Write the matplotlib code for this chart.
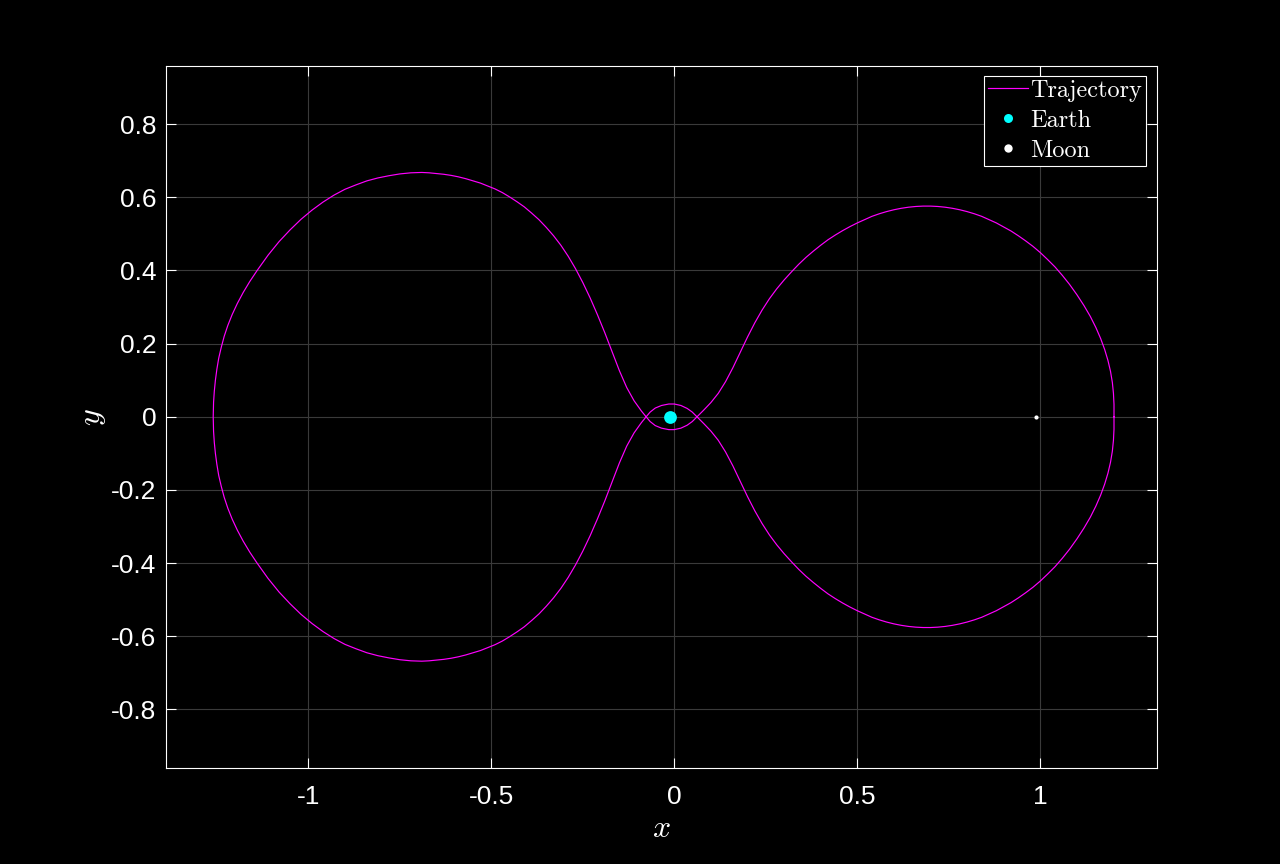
import numpy as np
import matplotlib
matplotlib.use("Agg")
import matplotlib.pyplot as plt
from matplotlib.lines import Line2D

plt.rcParams['axes.unicode_minus'] = False
plt.rcParams['mathtext.fontset'] = 'cm'
plt.rcParams['font.family'] = ['Liberation Sans', 'DejaVu Sans']

# Trajectory pieces, in the order the closed orbit runs
right_upper_x = [1.2015, 1.2015, 1.200, 1.197, 1.192, 1.185, 1.176, 1.165, 1.152, 1.137, 1.1195, 1.100, 1.080,
                 1.060, 1.040, 1.020, 1.000, 0.980, 0.960, 0.940, 0.920, 0.900, 0.880, 0.860, 0.840, 0.820,
                 0.800, 0.780, 0.760, 0.740, 0.720, 0.700, 0.680, 0.660, 0.640, 0.620, 0.600, 0.580, 0.560,
                 0.540, 0.520, 0.500, 0.480, 0.460, 0.440, 0.420, 0.400, 0.380, 0.360, 0.340, 0.320, 0.300,
                 0.280, 0.260, 0.240, 0.220, 0.200, 0.180, 0.160, 0.140, 0.120, 0.100, 0.080, 0.062]
right_upper_y = [0.000, 0.034, 0.064, 0.094, 0.124, 0.154, 0.184, 0.214, 0.244, 0.274, 0.304, 0.334, 0.362,
                 0.387, 0.410, 0.430, 0.449, 0.466, 0.481, 0.495, 0.508, 0.519, 0.530, 0.539, 0.548, 0.555,
                 0.561, 0.566, 0.570, 0.573, 0.575, 0.576, 0.576, 0.575, 0.573, 0.570, 0.566, 0.561, 0.555,
                 0.548, 0.539, 0.530, 0.520, 0.509, 0.497, 0.484, 0.469, 0.453, 0.436, 0.417, 0.396, 0.374,
                 0.350, 0.323, 0.292, 0.257, 0.218, 0.176, 0.134, 0.096, 0.064, 0.039, 0.018, 0.000]

bottom_arc_x = [0.049, 0.035, 0.018, 0.000, -0.015, -0.035, -0.052, -0.066, -0.077]
bottom_arc_y = [-0.013, -0.023, -0.031, -0.035, -0.035, -0.031, -0.024, -0.013, 0.000]

left_upper_x = [-0.090, -0.110, -0.130, -0.150, -0.170, -0.190, -0.210, -0.230, -0.250, -0.270, -0.290,
                -0.310, -0.330, -0.350, -0.370, -0.390, -0.410, -0.430, -0.450, -0.470, -0.490, -0.510,
                -0.530, -0.550, -0.570, -0.590, -0.610, -0.630, -0.650, -0.670, -0.690, -0.720, -0.750,
                -0.780, -0.810, -0.840, -0.870, -0.900, -0.930, -0.960, -0.990, -1.020, -1.050, -1.080,
                -1.110, -1.140, -1.160, -1.178, -1.194, -1.208, -1.220, -1.230, -1.238, -1.245, -1.250,
                -1.254, -1.257, -1.259, -1.260]
left_upper_y = [0.016, 0.044, 0.080, 0.126, 0.178, 0.230, 0.279, 0.325, 0.367, 0.405, 0.439,
                0.469, 0.495, 0.518, 0.539, 0.557, 0.574, 0.588, 0.601, 0.613, 0.623, 0.631,
                0.639, 0.645, 0.651, 0.656, 0.660, 0.663, 0.665, 0.667, 0.668, 0.667, 0.664,
                0.659, 0.653, 0.645, 0.634, 0.622, 0.606, 0.587, 0.565, 0.540, 0.511, 0.479,
                0.442, 0.400, 0.370, 0.340, 0.310, 0.280, 0.250, 0.220, 0.190, 0.160, 0.130,
                0.100, 0.070, 0.040, 0.000]

left_lower_x = [-1.259, -1.257, -1.254, -1.250, -1.245, -1.238, -1.230, -1.220, -1.208, -1.194, -1.178,
                -1.160, -1.140, -1.110, -1.080, -1.050, -1.020, -0.990, -0.960, -0.930, -0.900, -0.870,
                -0.840, -0.810, -0.780, -0.750, -0.720, -0.690, -0.670, -0.650, -0.630, -0.610, -0.590,
                -0.570, -0.550, -0.530, -0.510, -0.490, -0.470, -0.450, -0.430, -0.410, -0.390, -0.370,
                -0.350, -0.330, -0.310, -0.290, -0.270, -0.250, -0.230, -0.210, -0.190, -0.170, -0.150,
                -0.130, -0.110, -0.090, -0.077]
left_lower_y = [-0.040, -0.070, -0.100, -0.130, -0.160, -0.190, -0.220, -0.250, -0.280, -0.310, -0.340,
                -0.370, -0.400, -0.442, -0.479, -0.511, -0.540, -0.565, -0.587, -0.606, -0.622, -0.634,
                -0.645, -0.653, -0.659, -0.664, -0.667, -0.668, -0.667, -0.665, -0.663, -0.660, -0.656,
                -0.651, -0.645, -0.639, -0.631, -0.623, -0.613, -0.601, -0.588, -0.574, -0.557, -0.539,
                -0.518, -0.495, -0.469, -0.439, -0.405, -0.367, -0.325, -0.279, -0.230, -0.178, -0.126,
                -0.080, -0.044, -0.016, 0.000]

top_arc_x = [-0.066, -0.052, -0.035, -0.015, 0.000, 0.018, 0.035, 0.049, 0.062]
top_arc_y = [0.013, 0.024, 0.031, 0.035, 0.035, 0.031, 0.023, 0.013, 0.000]

right_lower_x = [0.080, 0.100, 0.120, 0.140, 0.160, 0.180, 0.200, 0.220, 0.240, 0.260, 0.280, 0.300,
                 0.320, 0.340, 0.360, 0.380, 0.400, 0.420, 0.440, 0.460, 0.480, 0.500, 0.520, 0.540,
                 0.560, 0.580, 0.600, 0.620, 0.640, 0.660, 0.680, 0.700, 0.720, 0.740, 0.760, 0.780,
                 0.800, 0.820, 0.840, 0.860, 0.880, 0.900, 0.920, 0.940, 0.960, 0.980, 1.000, 1.020,
                 1.040, 1.060, 1.080, 1.100, 1.1195, 1.137, 1.152, 1.165, 1.176, 1.185, 1.192, 1.197,
                 1.200, 1.2015, 1.2015]
right_lower_y = [-0.018, -0.039, -0.064, -0.096, -0.134, -0.176, -0.218, -0.257, -0.292, -0.323, -0.350, -0.374,
                 -0.396, -0.417, -0.436, -0.453, -0.469, -0.484, -0.497, -0.509, -0.520, -0.530, -0.539, -0.548,
                 -0.555, -0.561, -0.566, -0.570, -0.573, -0.575, -0.576, -0.576, -0.575, -0.573, -0.570, -0.566,
                 -0.561, -0.555, -0.548, -0.539, -0.530, -0.519, -0.508, -0.495, -0.481, -0.466, -0.449, -0.430,
                 -0.410, -0.387, -0.362, -0.334, -0.304, -0.274, -0.244, -0.214, -0.184, -0.154, -0.124, -0.094,
                 -0.064, -0.034, 0.000]

traj_x = right_upper_x + bottom_arc_x + left_upper_x + left_lower_x + top_arc_x + right_lower_x
traj_y = right_upper_y + bottom_arc_y + left_upper_y + left_lower_y + top_arc_y + right_lower_y

earth_xy = [-0.012, 0.0]
moon_xy = [0.988, 0.0]

x_ticks = [-1, -0.5, 0, 0.5, 1]
x_ticklabels = ['-1', '-0.5', '0', '0.5', '1']
y_ticks = [-0.8, -0.6, -0.4, -0.2, 0, 0.2, 0.4, 0.6, 0.8]
y_ticklabels = ['-0.8', '-0.6', '-0.4', '-0.2', '0', '0.2', '0.4', '0.6', '0.8']

fig = plt.figure(figsize=(12.8, 8.64), dpi=100, facecolor='black')
ax = fig.add_axes([166/1280, 96/864, 991/1280, 702/864])
ax.set_facecolor('black')

ax.plot(traj_x, traj_y, color='#ff00ff', lw=0.85, zorder=3, solid_joinstyle='round')
ax.plot(earth_xy[0], earth_xy[1], 'o', color='#00ffff', markersize=9.2, markeredgewidth=0, zorder=4)
ax.plot(moon_xy[0], moon_xy[1], 'o', color='white', markersize=3, markeredgewidth=0, zorder=4)

ax.set_xlim(-1.389, 1.319)
ax.set_ylim(-0.96, 0.959)
ax.set_xticks(x_ticks)
ax.set_xticklabels(x_ticklabels)
ax.set_yticks(y_ticks)
ax.set_yticklabels(y_ticklabels)
ax.grid(True, color='#3a3a3a', lw=0.8)
ax.set_axisbelow(True)
for s in ax.spines.values():
    s.set_color('white')
    s.set_linewidth(0.8)
ax.tick_params(direction='in', length=7, width=0.8, colors='white', labelsize=19,
               top=True, right=True)
ax.tick_params(axis='x', pad=12)
ax.tick_params(axis='y', pad=7)

ax.set_xlabel('$x$', color='white', fontsize=23, labelpad=4)
ax.set_ylabel('$y$', color='white', fontsize=23, labelpad=2)

handles = [Line2D([], [], color='#ff00ff', lw=0.85),
           Line2D([], [], marker='o', ls='none', color='#00ffff', markersize=6.5, markeredgewidth=0),
           Line2D([], [], marker='o', ls='none', color='white', markersize=6, markeredgewidth=0)]
leg = ax.legend(handles, ['Trajectory', 'Earth', 'Moon'], loc='upper right',
                bbox_to_anchor=(0.989, 0.986), borderaxespad=0, fancybox=False,
                facecolor='black', edgecolor='white', framealpha=1,
                prop={'family': 'cmr10', 'size': 17.5}, handlelength=1.65,
                handletextpad=0.1, labelspacing=0.32, borderpad=0.16)
leg.get_frame().set_linewidth(0.8)
for t in leg.get_texts():
    t.set_color('white')

fig.savefig('out.png', dpi=100, facecolor='black')
